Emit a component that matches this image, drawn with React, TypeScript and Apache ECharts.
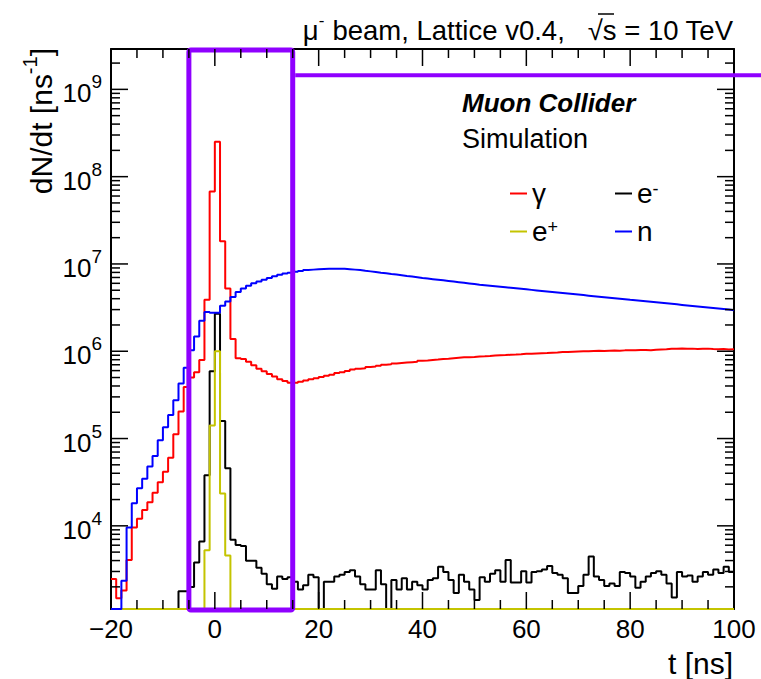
import React, { useEffect, useRef } from "react";
import * as echarts from "echarts";

// ---------------- data (log10 of dN/dt per 1 ns bin; null = empty bin) ----------------
const T_START = -20;
const T_END = 100;
const Y_MIN = 1115;
const Y_MAX = 2.9e9;
const X_TICK_INTERVAL = 20;

// lower edges of the 1 ns bins, -20 ... 99
const binLowEdges: number[] = Array.from({ length: T_END - T_START }, (_, i) => T_START + i);

const seriesNames = ["γ", "e-", "e+", "n"];

const gammaLog: (number | null)[] = [
  3.39, 3.17, 3.26, 3.61, 3.98, 4.08, 4.18, 4.27, 4.38, 4.5,
  4.62, 4.78, 5.05, 5.31, 5.59, 5.7, 5.76, 5.9, 6.59, 7.83,
  8.4, 7.26, 6.72, 6.14, 5.92, 5.91, 5.88, 5.84, 5.8, 5.77,
  5.74, 5.71, 5.68, 5.66, 5.64, 5.64, 5.65, 5.665, 5.68, 5.69,
  5.705, 5.72, 5.73, 5.75, 5.76, 5.775, 5.79, 5.8, 5.805, 5.82,
  5.825, 5.835, 5.845, 5.85, 5.86, 5.865, 5.87, 5.875, 5.88, 5.89,
  5.893, 5.9, 5.905, 5.912, 5.915, 5.92, 5.925, 5.93, 5.932, 5.935,
  5.94, 5.942, 5.945, 5.95, 5.955, 5.957, 5.96, 5.962, 5.965, 5.97,
  5.972, 5.975, 5.978, 5.98, 5.983, 5.985, 5.99, 5.992, 5.995, 5.998,
  6.0, 6.0, 6.003, 6.005, 6.003, 6.006, 6.008, 6.005, 6.01, 6.012,
  6.01, 6.013, 6.015, 6.012, 6.018, 6.02, 6.022, 6.028, 6.03, 6.032,
  6.028, 6.03, 6.025, 6.028, 6.03, 6.025, 6.022, 6.025, 6.02, 6.022,
];

const eMinusLog: (number | null)[] = [
  null, null, null, null, null, null, null, null, null, null,
  null, null, null, 3.25, 3.25, 3.3, 3.58, 3.82, 4.58, 5.77,
  6.43, 5.2, 4.66, 3.84, 3.78, 3.77, 3.6, 3.6, 3.52, 3.45,
  3.33, 3.28, 3.42, 3.39, 3.41, 3.36, 3.27, 3.32, 3.44, 3.41,
  null, 3.36, 3.36, 3.42, 3.44, 3.47, 3.49, 3.42, 3.33, 3.27,
  3.27, 3.49, 3.33, null, 3.38, 3.27, 3.4, 3.27, 3.36, 3.32,
  3.27, 3.38, 3.4, 3.53, 3.47, 3.38, 3.23, 3.44, 3.36, 3.27,
  3.15, 3.41, 3.36, 3.45, 3.49, 3.36, 3.61, 3.35, 3.35, 3.48,
  3.35, 3.47, 3.48, 3.5, 3.54, 3.46, 3.44, 3.4, 3.23, 3.23,
  3.31, 3.44, 3.65, 3.42, 3.38, 3.31, 3.34, 3.31, 3.47, 3.46,
  3.42, 3.29, 3.36, 3.42, 3.46, 3.48, 3.44, 3.34, 3.18, 3.47,
  3.42, 3.43, 3.36, 3.42, 3.47, 3.44, 3.5, 3.46, 3.53, 3.47,
];

const ePlusLog: (number | null)[] = [
  null, null, null, null, null, null, null, null, null, null,
  null, null, null, null, null, null, null, null, 3.72, 5.15,
  6.0, 4.37, 3.66, null, null, null, null, null, null, null,
  null, null, null, null, null, null, null, null, null, null,
  null, null, null, null, null, null, null, null, null, null,
  null, null, null, null, null, null, null, null, null, null,
  null, null, null, null, null, null, null, null, null, null,
  null, null, null, null, null, null, null, null, null, null,
  null, null, null, null, null, null, null, null, null, null,
  null, null, null, null, null, null, null, null, null, null,
  null, null, null, null, null, null, null, null, null, null,
  null, null, null, null, null, null, null, null, null, null,
];

const neutronLog: (number | null)[] = [
  null, null, 3.37, 3.98, 4.26, 4.43, 4.54, 4.68, 4.8, 4.98,
  5.13, 5.27, 5.44, 5.63, 5.81, 6.01, 6.17, 6.35, 6.45, 6.44,
  6.44, 6.52, 6.57, 6.62, 6.68, 6.72, 6.75, 6.78, 6.8, 6.82,
  6.84, 6.86, 6.875, 6.89, 6.9, 6.91, 6.92, 6.93, 6.935, 6.94,
  6.943, 6.945, 6.946, 6.946, 6.944, 6.94, 6.935, 6.93, 6.922, 6.915,
  6.908, 6.9, 6.893, 6.885, 6.878, 6.87, 6.862, 6.855, 6.848, 6.84,
  6.833, 6.826, 6.819, 6.812, 6.805, 6.798, 6.791, 6.784, 6.777, 6.77,
  6.763, 6.757, 6.751, 6.745, 6.739, 6.733, 6.727, 6.721, 6.715, 6.709,
  6.703, 6.697, 6.691, 6.685, 6.679, 6.673, 6.667, 6.661, 6.655, 6.649,
  6.643, 6.637, 6.631, 6.625, 6.619, 6.613, 6.607, 6.601, 6.595, 6.589,
  6.584, 6.579, 6.573, 6.567, 6.561, 6.555, 6.549, 6.543, 6.537, 6.531,
  6.525, 6.519, 6.513, 6.507, 6.501, 6.495, 6.489, 6.483, 6.477, 6.471,
];

// tick values (ROOT style frame ticks on all four sides)
const xMajorTicks = [0, 20, 40, 60, 80];
const xMinorTicks = [-15, -10, -5, 5, 10, 15, 25, 30, 35, 45, 50, 55, 65, 70, 75, 85, 90, 95];
const yMajorTicks = [1e4, 1e5, 1e6, 1e7, 1e8, 1e9];
const yMinorMultipliers = [2, 3, 4, 5, 6, 7, 8, 9];
const yDecades = [1e3, 1e4, 1e5, 1e6, 1e7, 1e8, 1e9];

// highlighted time window (ns) and callout height (dN/dt units)
const HIGHLIGHT_T = [-5, 15];
const CALLOUT_Y = 1.45e9;

// ---------------- styling ----------------
const FONT = "'Liberation Sans', Arial, Helvetica, sans-serif";
const PURPLE = "#8f00ff";
const COLORS: Record<string, string> = {
  "γ": "#ff0000",
  "e-": "#000000",
  "e+": "#c4c400",
  n: "#0000ff",
};
const MAJOR_LEN = 17;
const MINOR_LEN = 9;

function histData(logs: (number | null)[]) {
  const pts: number[][] = logs.map((l, i) => [binLowEdges[i], l == null ? Y_MIN : Math.pow(10, l)]);
  pts.push([T_END, pts[pts.length - 1][1]]);
  return pts;
}

function xAxisOpt(position: string, labels: boolean): any {
  return {
    type: "value",
    position,
    min: T_START,
    max: T_END,
    interval: X_TICK_INTERVAL,
    splitLine: { show: false },
    axisLine: { show: true, onZero: false, lineStyle: { color: "#000", width: 2 } },
    axisTick: { show: false },
    minorTick: { show: false },
    axisLabel: labels
      ? {
          show: true,
          margin: 7,
          fontFamily: FONT,
          fontSize: 26,
          color: "#000",
          formatter: (v: number) => (v < 0 ? "\u2212" + Math.abs(v) : String(v)),
        }
      : { show: false },
  };
}

function yAxisOpt(position: string, labels: boolean): any {
  return {
    type: "log",
    logBase: 10,
    position,
    min: Y_MIN,
    max: Y_MAX,
    splitLine: { show: false },
    axisLine: { show: true, onZero: false, lineStyle: { color: "#000", width: 2 } },
    axisTick: { show: false },
    minorTick: { show: false },
    axisLabel: labels
      ? {
          show: true,
          margin: 9,
          color: "#000",
          formatter: (v: number) => {
            const e = Math.log10(v);
            const r = Math.round(e);
            if (Math.abs(e - r) > 1e-6) return "";
            return "{b|10}{s|" + r + "}";
          },
          rich: {
            b: { fontFamily: FONT, fontSize: 26, color: "#000", verticalAlign: "bottom", padding: [8, 0, 0, 0] },
            s: { fontFamily: FONT, fontSize: 19, color: "#000", verticalAlign: "top" },
          },
        }
      : { show: false },
  };
}

function legendOpt(names: string[], left: number): any {
  return {
    data: names,
    orient: "vertical",
    left,
    top: 174,
    icon: "rect",
    itemWidth: 17,
    itemHeight: 2,
    itemGap: 10,
    selectedMode: false,
    textStyle: {
      fontFamily: FONT,
      fontSize: 28,
      color: "#000",
      rich: {
        b: { fontFamily: FONT, fontSize: 28, color: "#000", verticalAlign: "bottom", lineHeight: 27 },
        s: { fontFamily: FONT, fontSize: 18, color: "#000", verticalAlign: "top", lineHeight: 14 },
      },
    },
    formatter: (name: string) => {
      if (name === "e-") return "{b|e}{s|-}";
      if (name === "e+") return "{b|e}{s|+}";
      return "{b|" + name + "}";
    },
  };
}

function textGraphics(): any[] {
  return [
    {
      type: "text",
      id: "beamTitle",
      x: 733,
      y: 28,
      style: {
        text: "{n|\u03bc}{s|-}{n| beam, Lattice v0.4,   \u221as = 10 TeV}",
        textAlign: "right",
        textVerticalAlign: "middle",
        fill: "#000",
        rich: {
          n: { fontFamily: FONT, fontSize: 27.5, fill: "#000", verticalAlign: "bottom", padding: [4, 0, 0, 0] },
          s: { fontFamily: FONT, fontSize: 17, fill: "#000", verticalAlign: "top" },
        },
      },
    },
    {
      type: "line",
      id: "sqrtBar",
      shape: { x1: 598, y1: 14, x2: 614, y2: 14 },
      style: { stroke: "#000", lineWidth: 1.5 },
    },
    {
      type: "text",
      id: "experiment",
      x: 462,
      y: 103,
      style: {
        text: "Muon Collider",
        fontFamily: FONT,
        fontSize: 26,
        fontWeight: "bold",
        fontStyle: "italic",
        fill: "#000",
        textAlign: "left",
        textVerticalAlign: "middle",
      },
    },
    {
      type: "text",
      id: "simulation",
      x: 462,
      y: 139,
      style: {
        text: "Simulation",
        fontFamily: FONT,
        fontSize: 27,
        fill: "#000",
        textAlign: "left",
        textVerticalAlign: "middle",
      },
    },
    {
      type: "text",
      id: "yTitle",
      x: 38,
      y: 48,
      rotation: Math.PI / 2,
      style: {
        text: "{a|dN/dt [ns}{s|-1}{a|]}",
        textAlign: "right",
        textVerticalAlign: "middle",
        fill: "#000",
        rich: {
          a: { fontFamily: FONT, fontSize: 30, fill: "#000", verticalAlign: "bottom", padding: [6, 0, 0, 0] },
          s: { fontFamily: FONT, fontSize: 20, fill: "#000", verticalAlign: "top" },
        },
      },
    },
    {
      type: "text",
      id: "xTitle",
      x: 733,
      y: 663,
      style: {
        text: "t [ns]",
        fontFamily: FONT,
        fontSize: 30,
        fill: "#000",
        textAlign: "right",
        textVerticalAlign: "middle",
      },
    },
  ];
}

function buildOption(): any {
  const mkSeries = (name: string, logs: (number | null)[]) => ({
    type: "line",
    name,
    step: "end",
    symbol: "none",
    showSymbol: false,
    data: histData(logs),
    lineStyle: { color: COLORS[name], width: 2 },
    itemStyle: { color: COLORS[name] },
  });

  // purple highlight box over the time window and its callout line, placed through the axes
  const highlight = {
    type: "custom",
    name: "highlight",
    silent: true,
    clip: false,
    z: 40,
    data: [[HIGHLIGHT_T[0], HIGHLIGHT_T[1], CALLOUT_Y]],
    encode: { x: [0, 1], y: 2 },
    renderItem: (_params: any, api: any) => {
      const tl = api.coord([api.value(0), Y_MAX]);
      const br = api.coord([api.value(1), Y_MIN]);
      const c = api.coord([api.value(1), api.value(2)]);
      return {
        type: "group",
        children: [
          {
            type: "rect",
            shape: { x: tl[0], y: tl[1] + 1, width: br[0] - tl[0], height: br[1] - tl[1], r: 2 },
            style: { fill: "none", stroke: PURPLE, lineWidth: 5 },
          },
          {
            type: "line",
            shape: { x1: c[0] + 2.5, y1: c[1], x2: api.getWidth(), y2: c[1] },
            style: { stroke: PURPLE, lineWidth: 4 },
          },
        ],
      };
    },
  };

  return {
    animation: false,
    textStyle: { fontFamily: FONT },
    grid: { left: 111, top: 49, width: 623, height: 560 },
    xAxis: [xAxisOpt("bottom", true), xAxisOpt("top", false)],
    yAxis: [yAxisOpt("left", true), yAxisOpt("right", false)],
    legend: [legendOpt(["γ", "e+"], 505), legendOpt(["e-", "n"], 610)],
    series: [
      mkSeries(seriesNames[0], gammaLog),
      mkSeries(seriesNames[1], eMinusLog),
      mkSeries(seriesNames[2], ePlusLog),
      mkSeries(seriesNames[3], neutronLog),
      highlight,
    ],
    graphic: textGraphics(),
  };
}

// frame tick marks, positioned through the chart's own axis scales
function tickGraphics(chart: any): any[] {
  const finder = { xAxisIndex: 0, yAxisIndex: 0 };
  const out: any[] = [];
  const st = { stroke: "#000", lineWidth: 1.5 };
  let k = 0;
  const addX = (v: number, len: number) => {
    const b = chart.convertToPixel(finder, [v, Y_MIN]) as number[];
    const t = chart.convertToPixel(finder, [v, Y_MAX]) as number[];
    if (!b || !t) return;
    out.push({ type: "line", id: "tk" + k++, z: 50, shape: { x1: b[0], y1: b[1], x2: b[0], y2: b[1] - len }, style: st });
    out.push({ type: "line", id: "tk" + k++, z: 50, shape: { x1: t[0], y1: t[1], x2: t[0], y2: t[1] + len }, style: st });
  };
  const addY = (v: number, len: number) => {
    const l = chart.convertToPixel(finder, [T_START, v]) as number[];
    const r = chart.convertToPixel(finder, [T_END, v]) as number[];
    if (!l || !r) return;
    out.push({ type: "line", id: "tk" + k++, z: 50, shape: { x1: l[0], y1: l[1], x2: l[0] + len, y2: l[1] }, style: st });
    out.push({ type: "line", id: "tk" + k++, z: 50, shape: { x1: r[0], y1: r[1], x2: r[0] - len, y2: r[1] }, style: st });
  };
  xMajorTicks.forEach((v) => addX(v, MAJOR_LEN));
  xMinorTicks.forEach((v) => addX(v, MINOR_LEN));
  yMajorTicks.forEach((v) => addY(v, MAJOR_LEN));
  yDecades.forEach((d) =>
    yMinorMultipliers.forEach((m) => {
      const v = d * m;
      if (v > Y_MIN && v < Y_MAX) addY(v, MINOR_LEN);
    })
  );
  return out;
}

export default function App() {
  const ref = useRef<HTMLDivElement>(null);
  useEffect(() => {
    const el = ref.current;
    if (!el) return;
    const chart = echarts.init(el, null, { renderer: "svg" });
    chart.setOption(buildOption());
    const ticks = tickGraphics(chart);
    if (ticks.length) {
      chart.setOption({ graphic: [...textGraphics(), ...ticks] });
    }
    return () => chart.dispose();
  }, []);
  return (
    <div
      ref={ref}
      style={{ position: "fixed", left: 0, top: 0, width: 761, height: 679, background: "#fff" }}
    />
  );
}
